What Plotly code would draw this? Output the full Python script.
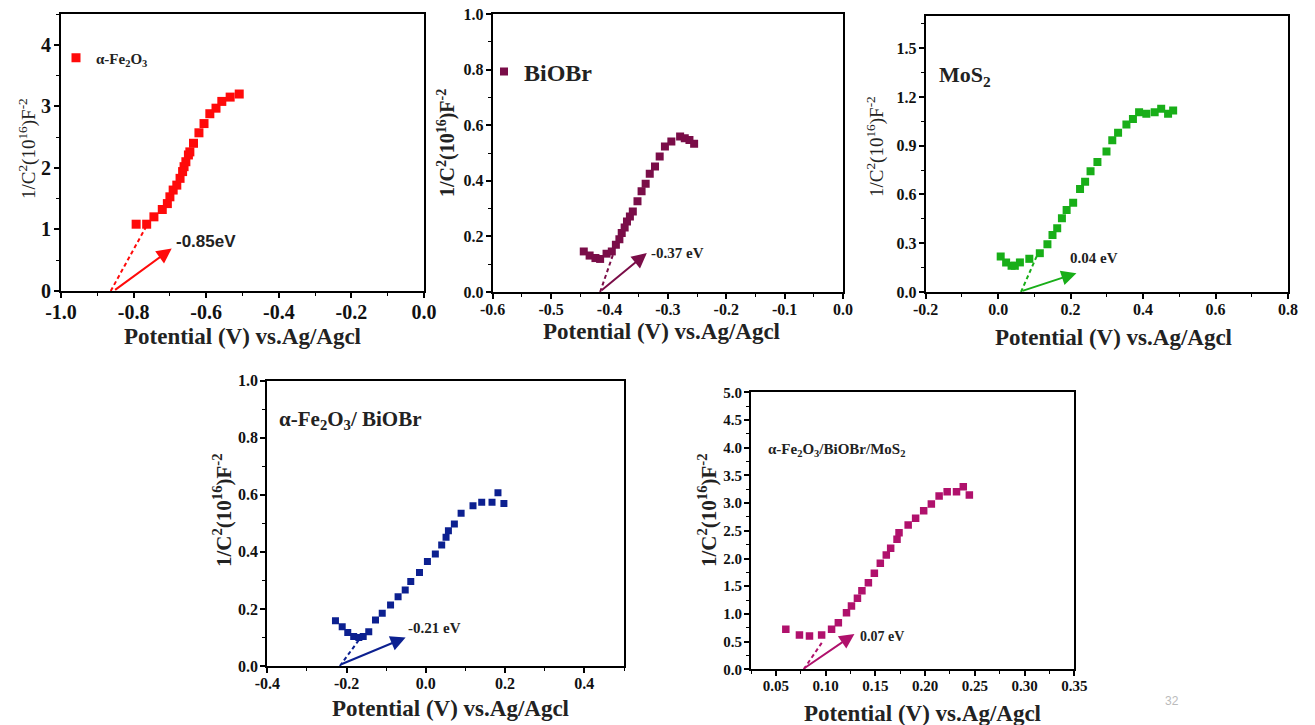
import plotly.graph_objects as go

W, H = 1315, 725

# ---------------- data ----------------
fe_x = [-0.793, -0.764, -0.744, -0.721, -0.707, -0.700, -0.691, -0.681, -0.672, -0.665, -0.661,
        -0.656, -0.649, -0.645, -0.635, -0.620, -0.606, -0.590, -0.573, -0.557, -0.534, -0.509]
fe_y = [1.085, 1.085, 1.205, 1.324, 1.42, 1.53, 1.64, 1.72, 1.83, 1.94, 2.02,
        2.10, 2.21, 2.26, 2.40, 2.57, 2.72, 2.88, 2.97, 3.08, 3.15, 3.20]

biobr_x = [-0.444, -0.434, -0.424, -0.416, -0.405, -0.396, -0.389, -0.383, -0.379, -0.374, -0.370,
           -0.365, -0.360, -0.352, -0.345, -0.338, -0.331, -0.322, -0.314, -0.305, -0.294, -0.279,
           -0.271, -0.263, -0.255]
biobr_y = [0.146, 0.131, 0.122, 0.119, 0.138, 0.146, 0.170, 0.190, 0.212, 0.232, 0.254,
           0.272, 0.290, 0.326, 0.362, 0.389, 0.425, 0.451, 0.487, 0.523, 0.541, 0.559,
           0.553, 0.547, 0.533]

mos2_x = [0.007, 0.022, 0.037, 0.046, 0.060, 0.086, 0.115, 0.136, 0.150, 0.163, 0.176, 0.189,
          0.207, 0.226, 0.240, 0.255, 0.274, 0.299, 0.315, 0.331, 0.354, 0.372, 0.389, 0.409,
          0.432, 0.450, 0.469, 0.483]
mos2_y = [0.218, 0.182, 0.161, 0.161, 0.182, 0.204, 0.239, 0.294, 0.351, 0.392, 0.453, 0.504,
          0.549, 0.633, 0.678, 0.743, 0.800, 0.865, 0.933, 0.980, 1.031, 1.065, 1.106, 1.096,
          1.106, 1.127, 1.096, 1.116]

fb_x = [-0.228, -0.211, -0.197, -0.182, -0.169, -0.158, -0.144, -0.127, -0.110, -0.089, -0.070,
        -0.052, -0.038, -0.016, 0.004, 0.024, 0.040, 0.051, 0.057, 0.072, 0.089, 0.119, 0.141,
        0.167, 0.182, 0.197]
fb_y = [0.159, 0.138, 0.117, 0.103, 0.100, 0.103, 0.120, 0.161, 0.185, 0.214, 0.243,
        0.266, 0.296, 0.328, 0.366, 0.393, 0.424, 0.451, 0.474, 0.498, 0.535, 0.562, 0.574,
        0.574, 0.607, 0.570]

fbm_x = [0.060, 0.0737, 0.0838, 0.096, 0.106, 0.1128, 0.121, 0.126, 0.132, 0.1365, 0.143, 0.149,
         0.155, 0.161, 0.1654, 0.1718, 0.1738, 0.183, 0.1905, 0.1986, 0.2063, 0.2141, 0.2222,
         0.2316, 0.2384, 0.2445]
fbm_y = [0.722, 0.620, 0.602, 0.620, 0.722, 0.842, 1.023, 1.143, 1.282, 1.420, 1.564, 1.733,
         1.913, 2.064, 2.184, 2.347, 2.467, 2.605, 2.726, 2.864, 2.984, 3.129, 3.207,
         3.207, 3.297, 3.147]

# extrapolation (dashed) lines
fit_x = [[-0.863, -0.766], [-0.416, -0.393], [0.063, 0.106], [-0.217, -0.169], [0.078, 0.097]]
fit_y = [[0.0, 1.04], [0.0, 0.14], [0.0, 0.218], [0.0, 0.091], [0.0, 0.5]]

# arrows: tail (x,y) -> head (x,y)
arrow_tail = [(-0.855, 0.0), (-0.416, 0.002), (0.063, 0.004), (-0.217, 0.004), (0.077, 0.0)]
arrow_head = [(-0.695, 0.69), (-0.336, 0.14), (0.216, 0.116), (-0.051, 0.100), (0.129, 0.638)]

# flat-band labels
fb_text = ["-0.85eV", "-0.37 eV", "0.04 eV", "-0.21 eV", "0.07 eV"]
fb_pos = [(-0.688, 0.80), (-0.333, 0.14), (0.194, 0.208), (-0.049, 0.132), (0.1325, 0.59)]

names = ["α-Fe<sub>2</sub>O<sub>3</sub>", "BiOBr", "MoS<sub>2</sub>",
         "α-Fe<sub>2</sub>O<sub>3</sub>/ BiOBr", "α-Fe<sub>2</sub>O<sub>3</sub>/BiOBr/MoS<sub>2</sub>"]
colors = ["#FF0A0A", "#7A0D48", "#18AE18", "#0C2090", "#B0116C"]

# axes ticks
x_ranges = [[-1.0, 0.0], [-0.6, 0.0], [-0.2, 0.8], [-0.4, 0.5], [0.025, 0.35]]
y_ranges = [[0, 4.5], [0, 1.0], [0, 1.7], [0, 1.0], [0, 5.0]]
x_tickvals = [[-1.0, -0.8, -0.6, -0.4, -0.2, 0.0],
              [-0.6, -0.5, -0.4, -0.3, -0.2, -0.1, 0.0],
              [-0.2, 0.0, 0.2, 0.4, 0.6, 0.8],
              [-0.4, -0.2, 0.0, 0.2, 0.4],
              [0.05, 0.10, 0.15, 0.20, 0.25, 0.30, 0.35]]
x_ticktext = [["-1.0", "-0.8", "-0.6", "-0.4", "-0.2", "0.0"],
              ["-0.6", "-0.5", "-0.4", "-0.3", "-0.2", "-0.1", "0.0"],
              ["-0.2", "0.0", "0.2", "0.4", "0.6", "0.8"],
              ["-0.4", "-0.2", "0.0", "0.2", "0.4"],
              ["0.05", "0.10", "0.15", "0.20", "0.25", "0.30", "0.35"]]
y_tickvals = [[0, 1, 2, 3, 4],
              [0.0, 0.2, 0.4, 0.6, 0.8, 1.0],
              [0.0, 0.3, 0.6, 0.9, 1.2, 1.5],
              [0.0, 0.2, 0.4, 0.6, 0.8, 1.0],
              [0.0, 0.5, 1.0, 1.5, 2.0, 2.5, 3.0, 3.5, 4.0, 4.5, 5.0]]
y_ticktext = [["0", "1", "2", "3", "4"],
              ["0.0", "0.2", "0.4", "0.6", "0.8", "1.0"],
              ["0.0", "0.3", "0.6", "0.9", "1.2", "1.5"],
              ["0.0", "0.2", "0.4", "0.6", "0.8", "1.0"],
              ["0.0", "0.5", "1.0", "1.5", "2.0", "2.5", "3.0", "3.5", "4.0", "4.5", "5.0"]]
x_minor = [0.1, 0.05, 0.1, 0.1, 0.025]
y_minor = [0.5, 0.1, 0.15, 0.1, 0.25]

xtitle = "Potential (V) vs.Ag/Agcl"
ytitle = "1/C<sup>2</sup>(10<sup>16</sup>)F<sup>-2</sup>"

# ---------------- layout geometry (pixels) ----------------
boxes = [(61, 424, 14, 291), (492.7, 843, 14, 292), (925.7, 1288, 15.7, 292),
         (267.3, 624, 380.7, 666), (751, 1074.3, 392.3, 669.3)]
tick_sizes = [20, 16, 16, 16, 15]
marker_sizes = [9, 8, 8, 7, 7.5]
xtitle_pos = [(242, 336), (662, 331), (1113, 337), (450, 708), (922, 713)]
ytitle_pos = [(27, 149), (447, 143), (875, 147), (222, 510), (707, 510)]
ytitle_size = [19, 20, 19, 21, 21]
ytitle_bold = [False, True, False, True, True]
fbsize = [17, 15, 15, 15, 14]
fbfamily = ["Liberation Sans", "Liberation Serif", "Liberation Serif", "Liberation Serif", "Liberation Serif"]

SERIF = "Liberation Serif"

fig = go.Figure()
annotations = []
layout = dict(width=W, height=H, margin=dict(l=0, r=0, t=0, b=0, autoexpand=False),
              paper_bgcolor="white", plot_bgcolor="white")

series = [(fe_x, fe_y), (biobr_x, biobr_y), (mos2_x, mos2_y), (fb_x, fb_y), (fbm_x, fbm_y)]

for i in range(5):
    n = "" if i == 0 else str(i + 1)
    xa, ya = "x" + n, "y" + n
    x0, x1, y0, y1 = boxes[i]
    axis_common = dict(showline=True, linewidth=2, linecolor="black", mirror=True,
                       showgrid=False, zeroline=False, ticks="outside", ticklen=5,
                       tickwidth=1.5, tickcolor="black", automargin=False,
                       tickfont=dict(family=SERIF, size=tick_sizes[i], color="#111111", weight="bold"),
                       fixedrange=True)
    layout["xaxis" + n] = dict(axis_common, domain=[x0 / W, x1 / W], range=x_ranges[i],
                               anchor=ya, tickvals=x_tickvals[i], ticktext=x_ticktext[i],
                               ticklabelstandoff=-3,
                               minor=dict(dtick=x_minor[i], ticks="outside", ticklen=3,
                                          tickwidth=1, tickcolor="black", tick0=x_tickvals[i][0]))
    layout["yaxis" + n] = dict(axis_common, domain=[1 - y1 / H, 1 - y0 / H], range=y_ranges[i],
                               anchor=xa, tickvals=y_tickvals[i], ticktext=y_ticktext[i],
                               ticklabelstandoff=-1,
                               minor=dict(dtick=y_minor[i], ticks="outside", ticklen=3,
                                          tickwidth=1, tickcolor="black", tick0=0))

    sx, sy = series[i]
    show_leg = i < 2
    fig.add_trace(go.Scatter(x=sx, y=sy, mode="markers", xaxis=xa, yaxis=ya, name=names[i],
                             marker=dict(symbol="square", size=marker_sizes[i], color=colors[i]),
                             showlegend=show_leg, legend="legend" if i == 0 else "legend2"))
    fig.add_trace(go.Scatter(x=fit_x[i], y=fit_y[i], mode="lines", xaxis=xa, yaxis=ya,
                             line=dict(color=colors[i], width=2, dash="4px,3px"), showlegend=False))

    # arrow
    annotations.append(dict(x=arrow_head[i][0], y=arrow_head[i][1], xref=xa, yref=ya,
                            ax=arrow_tail[i][0], ay=arrow_tail[i][1], axref=xa, ayref=ya,
                            text="", showarrow=True, arrowhead=2, arrowsize=1.5,
                            arrowwidth=2, arrowcolor=colors[i]))
    # flat band label
    annotations.append(dict(x=fb_pos[i][0], y=fb_pos[i][1], xref=xa, yref=ya, text="<b>%s</b>" % fb_text[i],
                            showarrow=False, xanchor="left", yanchor="middle",
                            font=dict(family=fbfamily[i], size=fbsize[i], color="#222222")))
    # x title
    annotations.append(dict(x=xtitle_pos[i][0] / W, y=1 - xtitle_pos[i][1] / H, xref="paper", yref="paper",
                            text="<b>%s</b>" % xtitle, showarrow=False, xanchor="center", yanchor="middle",
                            font=dict(family=SERIF, size=23, color="#222222")))
    # y title
    yt = "<b>%s</b>" % ytitle if ytitle_bold[i] else ytitle
    annotations.append(dict(x=ytitle_pos[i][0] / W, y=1 - ytitle_pos[i][1] / H, xref="paper", yref="paper",
                            text=yt, showarrow=False, xanchor="center", yanchor="middle", textangle=-90,
                            font=dict(family=SERIF, size=ytitle_size[i], color="#222222")))

# panel labels (no marker) for panels 3-5
label_pos = [None, None, (937, 76, 22), (277, 420, 21), (766, 450, 15)]
for i in range(2, 5):
    px, py, fs = label_pos[i]
    annotations.append(dict(x=px / W, y=1 - py / H, xref="paper", yref="paper",
                            text="<b>%s</b>" % names[i], showarrow=False, xanchor="left", yanchor="middle",
                            font=dict(family=SERIF, size=fs, color="#222222")))

# page number
annotations.append(dict(x=1172 / W, y=1 - 701 / H, xref="paper", yref="paper", text="32",
                        showarrow=False, xanchor="center", yanchor="middle",
                        font=dict(family="Liberation Sans", size=12, color="#BBBBBB")))

layout["annotations"] = annotations
layout["legend"] = dict(x=56 / W, y=1 - 58 / H, xanchor="left", yanchor="middle",
                        bgcolor="rgba(0,0,0,0)", borderwidth=0, tracegroupgap=0,
                        font=dict(family=SERIF, size=15, color="#222222", weight="bold"))
layout["legend2"] = dict(x=484 / W, y=1 - 72 / H, xanchor="left", yanchor="middle",
                         bgcolor="rgba(0,0,0,0)", borderwidth=0,
                         font=dict(family=SERIF, size=24, color="#222222", weight="bold"))
fig.update_layout(**layout)

fig.write_html("out.html")
